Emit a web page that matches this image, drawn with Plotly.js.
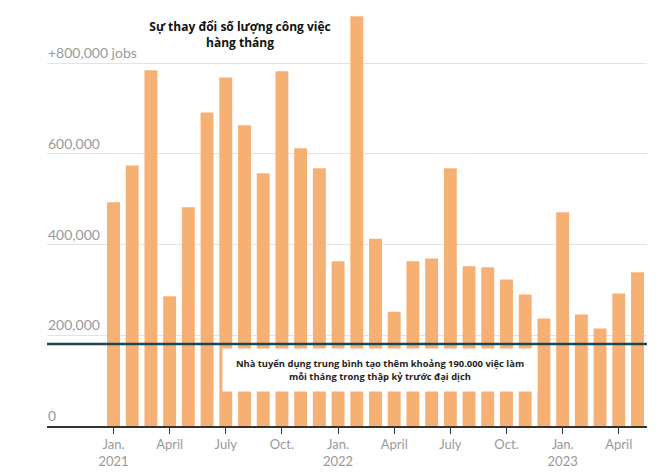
<!DOCTYPE html>
<html>
<head>
<meta charset="utf-8">
<script src="https://cdn.plot.ly/plotly-3.0.1.min.js"></script>
<style>html,body{margin:0;padding:0;background:#fff;}#chart{width:666px;height:474px;}</style>
</head>
<body>
<div id="chart"></div>
<script>
const months = ["2021-01","2021-02","2021-03","2021-04","2021-05","2021-06","2021-07","2021-08","2021-09","2021-10","2021-11","2021-12",
  "2022-01","2022-02","2022-03","2022-04","2022-05","2022-06","2022-07","2022-08","2022-09","2022-10","2022-11","2022-12",
  "2023-01","2023-02","2023-03","2023-04","2023-05"];
const jobChange = [493000,574000,784000,286000,482000,691000,768000,663000,557000,782000,612000,568000,
  363000,903000,413000,252000,363000,369000,568000,352000,350000,323000,290000,237000,
  471000,246000,215000,292000,339000];
const xTickMonths = ["2021-01","2021-04","2021-07","2021-10","2022-01","2022-04","2022-07","2022-10","2023-01","2023-04"];
const xTickText = ["Jan.<br>2021","April","July","Oct.","Jan.<br>2022","April","July","Oct.","Jan.<br>2023","April"];
const yTickVals = [0,200000,400000,600000,800000];
const yTickText = ["0","200,000","400,000","600,000","+800,000 jobs"];
const preCovidAverage = 181000;
const titleText = "Sự thay đổi số lượng công việc<br>hàng tháng";
const noteText = "Nhà tuyển dụng trung bình tạo thêm khoảng 190.000 việc làm<br>mỗi tháng trong thập kỷ trước đại dịch";

const xIndex = months.map((m, i) => i);
const xTickVals = xTickMonths.map(m => months.indexOf(m));

const trace = {
  type: 'bar', x: xIndex, y: jobChange,
  marker: {color: '#f7b073'}, width: 0.69, hoverinfo: 'skip'
};
const yLabelAnnotations = yTickVals.map((v, i) => ({
  text: yTickText[i], xref: 'paper', x: 0, yref: 'y', y: v, xanchor: 'left', yanchor: 'bottom',
  showarrow: false, borderpad: 0, yshift: 1,
  font: {family: 'Lato', size: 14, color: '#999'}
}));
const layout = {
  width: 666, height: 474,
  margin: {l: 47, r: 19, t: 10, b: 48},
  paper_bgcolor: '#fff', plot_bgcolor: '#fff',
  showlegend: false,
  font: {family: 'Lato, sans-serif', color: '#999'},
  title: {text: titleText, font: {family: 'Open Sans', size: 12, weight: 700, color: '#111', lineposition: 'none'},
    xref: 'paper', x: 0.3217, xanchor: 'center', yref: 'container', y: 1 - 31/474, yanchor: 'middle'},
  xaxis: {type: 'linear', range: [-3.553, 28.508], tickmode: 'array', tickvals: xTickVals, ticktext: xTickText,
    ticks: 'outside', ticklen: 6, tickcolor: '#333', tickwidth: 1,
    showline: true, linecolor: '#333', linewidth: 1.5, showgrid: false, zeroline: false,
    tickfont: {family: 'Lato', size: 13, color: '#999'}, fixedrange: true},
  yaxis: {range: [0, 917000], tickmode: 'array', tickvals: yTickVals, showticklabels: false,
    showgrid: true, gridcolor: '#e3e3e3', gridwidth: 1,
    zeroline: false, showline: false, ticks: '', fixedrange: true},
  shapes: [
    {type: 'line', xref: 'paper', x0: 0, x1: 1, yref: 'y', y0: preCovidAverage, y1: preCovidAverage,
      line: {color: '#1b4656', width: 2.5}, layer: 'above'}
  ],
  annotations: yLabelAnnotations.concat([
    {text: noteText, xref: 'paper', x: 0.555, yref: 'paper', y: 0.1358, xanchor: 'center', yanchor: 'middle',
      showarrow: false, bgcolor: '#fff', width: 314, height: 42, borderpad: 0,
      font: {family: 'Open Sans', size: 9.4, weight: 700, color: '#222'}, align: 'center'}
  ])
};
Plotly.newPlot('chart', [trace], layout, {displayModeBar: false, staticPlot: true});
</script>
</body>
</html>
